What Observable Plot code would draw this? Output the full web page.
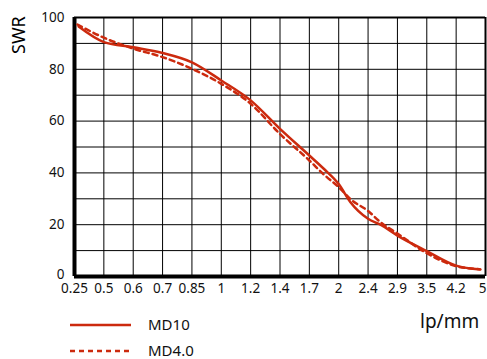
<!DOCTYPE html>
<html><head><meta charset="utf-8">
<script src="https://cdn.jsdelivr.net/npm/d3@7"></script>
<script src="https://cdn.jsdelivr.net/npm/@observablehq/plot@0.6"></script>
<style>
body{margin:0;background:#fff;font-family:"Noto Sans",sans-serif;}
#wrap{position:relative;width:487px;height:359px;}
#chart{position:absolute;left:0;top:0;}
.lbl{position:absolute;color:#111;white-space:nowrap;line-height:1.2;}
</style></head>
<body><div id="wrap"><div id="chart"></div>
<div class="lbl" style="left:8px;top:54px;font-size:18px;color:#000;transform:rotate(-90deg);transform-origin:left top;">SWR</div>
<div class="lbl" style="left:420px;top:310px;font-size:19px;">lp/mm</div>
<svg style="position:absolute;left:0;top:310px" width="200" height="49">
 <line x1="70" x2="131" y1="15" y2="15" stroke="#cc2a0e" stroke-width="2.5"/>
 <line x1="70" x2="131" y1="41" y2="41" stroke="#cc2a0e" stroke-width="2.5" stroke-dasharray="5,4"/>
</svg>
<div class="lbl" style="left:148px;top:315px;font-size:15px;">MD10</div>
<div class="lbl" style="left:148px;top:341px;font-size:15px;">MD4.0</div>
</div>
<script>
const tickLabels = ["0.25","0.5","0.6","0.7","0.85","1","1.2","1.4","1.7","2","2.4","2.9","3.5","4.2","5"];
// x positions are in tick-index units (0 = 0.25 lp/mm, 14 = 5 lp/mm)
const md10X = [0.14, 1, 2, 3, 4, 5, 6, 7, 8, 8.5, 9, 9.4, 10, 10.42, 11, 12, 13, 13.83];
const md10Y = [96.5, 90.5, 88.5, 86.3, 82.7, 75.7, 68, 57, 46.7, 41.5, 35.7, 28.7, 22.3, 20, 15.8, 9.8, 4.2, 2.7];
const md4X = [0.1, 1, 2, 3, 4, 5, 6, 7, 8, 8.5, 9, 9.43, 10, 10.42, 11, 12, 13, 13.8];
const md4Y = [97.3, 92.2, 88, 84.7, 80.2, 74.4, 66.7, 55, 44.8, 39.3, 34.5, 29.6, 25.3, 21, 16.6, 9, 4, 2.8];

const md10 = md10X.map((x,i)=>({x, y: md10Y[i]}));
const md4 = md4X.map((x,i)=>({x, y: md4Y[i]}));
const red = "#cc2a0e";

const plot = Plot.plot({
  width: 487, height: 300,
  marginLeft: 74, marginRight: 2, marginTop: 17, marginBottom: 24,
  style: {fontFamily: "Noto Sans, sans-serif", fontSize: "13.5px", color: "#111", background: "transparent", overflow: "visible"},
  x: {type: "linear", domain: [0, 14], label: null},
  y: {domain: [0, 100], label: null},
  marks: [
    Plot.frame({fill: "white", stroke: "none"}),
    Plot.gridX(d3.range(15), {stroke: "#000", strokeOpacity: 1, strokeWidth: 1}),
    Plot.gridY(d3.range(0, 101, 10), {stroke: "#000", strokeOpacity: 1, strokeWidth: 1}),
    Plot.ruleY([100], {stroke: "#000", strokeWidth: 2}),
    Plot.ruleX([14], {stroke: "#000", strokeWidth: 2}),
    Plot.ruleY([0], {stroke: "#000", strokeWidth: 4}),
    Plot.ruleX([0], {stroke: "#000", strokeWidth: 4}),
    Plot.line(md4, {x: "x", y: "y", stroke: red, strokeWidth: 2.5, strokeDasharray: "5,4", curve: "monotone-x"}),
    Plot.line(md10, {x: "x", y: "y", stroke: red, strokeWidth: 2.5, curve: "monotone-x"}),
    Plot.axisX({ticks: d3.range(14), tickFormat: i => tickLabels[i], tickSize: 0, tickPadding: 7}),
    Plot.axisX({ticks: [14], tickFormat: i => tickLabels[i], tickSize: 0, tickPadding: 7, dx: -3}),
    Plot.axisY({ticks: d3.range(20, 101, 20), tickSize: 0, tickPadding: 10}),
    Plot.axisY({ticks: [0], tickSize: 0, tickPadding: 10, dy: -2})
  ]
});
document.getElementById("chart").appendChild(plot);
const fr = plot.querySelector('g[aria-label="frame"] rect');
if (fr) fr.style.filter = "drop-shadow(2px 3px 5px rgba(0,0,0,0.3))";
</script></body></html>
